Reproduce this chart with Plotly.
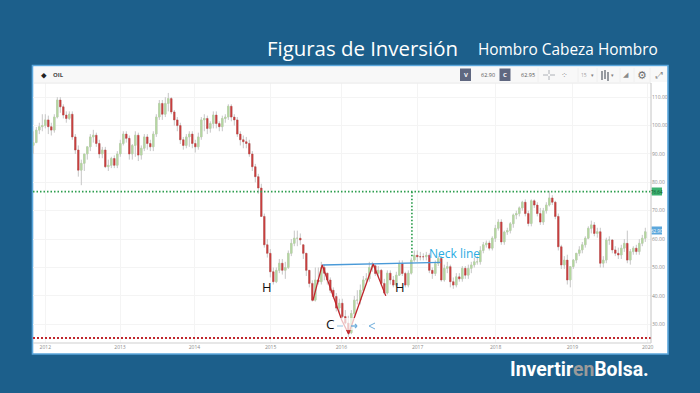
import plotly.graph_objects as go

opens = [93,94,98.4,99.6,100,102,99.6,98.4,103,109,
 106.6,103.7,102.5,104,96,91.4,84.3,86.7,90,92.5,
 96,96.6,93.7,90,91.4,85.5,86,88.4,86,90,
 93.7,97,95.5,90,93,96.6,89.6,92,96,93.7,
 92.5,97,103,107.8,104,107.8,109.5,104.8,102,100,
 95,93,96,97,93.7,92.5,96,102,102.5,99,
 100.7,103.7,100.7,99.6,102.5,103,106.8,103,102,97,
 95,94.3,93.7,90,85.5,82,78,68,58,55,
 48.5,45,49,51.5,49,50,55,58.5,60.3,60.3,
 58,55,49,44.4,38.5,45.6,45,50,48,45.6,
 42,39.8,35.7,37.4,32.7,30.4,
 27,33.8,38.5,38.5,42,45.6,46,50,50.6,47.9,
 49,44.4,41,48,45.6,43.8,47.3,51.4,47.9,43.8,
 48,52.6,54.3,53.8,53.8,53.8,54.3,49,47.9,51.4,
 53.2,45.6,49.7,50.3,45,43.8,46.7,46,49.7,47.3,
 49.7,50.9,52,52,56,58,58.6,56.8,60.3,63.8,
 66,59,62.5,63,65.4,68.5,69,71,73,69,
 65.5,73.5,72,69,66,70,72,74.5,73,68,
 57.3,50.9,52.6,45.6,50.3,52.6,55,56.2,58,60.3,
 63.8,65,62,62.6,51.5,52.6,59.7,59.7,56.2,55,
 54.4,56.8,58.5,52.6,55.6,56.8,55.6,58.5,60.3]
closes = [94,98.4,99.6,100,102,99.6,98.4,103,109,106.6,
 103.7,102.5,104,96,91.4,84.3,86.7,90,92.5,96,
 96.6,93.7,90,91.4,85.5,86,88.4,86,90,93.7,
 97,95.5,90,93,96.6,89.6,92,96,93.7,92.5,
 97,103,107.8,104,107.8,109.5,104.8,102,100,95,
 93,96,97,93.7,92.5,96,102,102.5,99,100.7,
 103.7,100.7,99.6,102.5,103,106.8,103,102,97,95,
 94.3,93.7,90,85.5,82,78,68,58,55,48.5,
 45,49,51.5,49,50,55,58.5,60.3,60.3,59.7,
 55,49,44.4,38.5,45.6,45,50,48,45.6,42,
 39.8,35.7,37.4,32.7,30.4,27,
 33.8,38.5,38.5,42,45.6,46,50,50.6,47.9,49,
 44.4,41,48,45.6,43.8,47.3,51.4,47.9,43.8,48,
 52.6,54.3,53.8,53.8,53.8,54.3,49,47.9,51.4,53.2,
 45.6,49.7,50.3,45,43.8,46.7,46,49.7,47.3,49.7,
 50.9,52,52,56,58,58.6,56.8,60.3,63.8,66,
 59,62.5,63,65.4,68.5,69,71,73,69,65.5,
 73.5,72,69,66,70,72,74.5,73,68,57.3,
 50.9,52.6,45.6,50.3,52.6,55,56.2,58,60.3,63.8,
 65,62,62.6,51.5,52.6,59.7,59.7,56.2,55,54.4,
 56.8,58.5,52.6,55.6,56.8,55.6,58.5,60.3,62.6]
highs = [98,99.5,101,104,104,103.5,101,104,110,110,
 107.5,105,105,105,97,93,88,89,92,97,
 98.5,97.5,95,92.5,92.5,88,89,89.5,91,95,
 98,98,96.5,93.5,98,97.5,93,97,97,95,
 98,104,109,109,110,111.5,110,105.5,103,101,
 96,97,98,98,95,97.5,103,104,103.5,101.5,
 105,105,101.5,103.5,104,107.5,107.5,104,103,98,
 96.5,96,95,91,86.5,83,79.5,69,60,56.5,
 50,50,53,53,52,56,60,63,63,62,
 56,50.5,47,45.5,50,50,52,51,48,46.5,
 43,41,39,39,35,33,
 35,40,42,44,47,48,52,52,51,50.5,
 49.5,46,49,49,47,48.5,52.5,52.5,48.5,49,
 53.5,56,56,55.5,55,55.5,55,50,52.5,54,
 54,51,52,51,46.5,48,48,50.5,50.5,51,
 52,53.5,54,57.5,59,59.5,59.5,61,65,67,
 67,63,64,66,69,70,71.5,73.5,74,70,
 74,74,73,71,71,73,77,75.5,73.5,69,
 58,54,54.5,47,53,55,57.5,59,61,64.5,
 66.5,66,64,64,54,60.5,61,60,57.5,57,
 58,60,63,56.5,57.5,58,60,61.5,64]
lows = [90,94,97,98,99,97,96.5,97.5,102.5,104.5,
 102.5,101,102,95,90,82,79,84,88,91,
 94,92.5,88.5,88.5,85,84,85,85,85,89,
 93,94,88,88,89,87.5,88,91,91.5,91,
 91,96,102,102,103,105,104,100,98,93.5,
 91.5,92,92.5,92,90.5,91.5,95,98,97,97.5,
 99,99,98,98,101,102,101.5,100,96,93,
 92,92,89,84,80,76,68,57,53.5,46.5,
 44,44.5,48,47.5,46,49.5,54,57.5,57.5,58,
 53,47,43,38,38,44,44,45.5,44,41,
 39,34.5,34,32,30,25.5,
 26.5,33,37,37,41,44,45,48.5,47,46.5,
 43.5,40.5,40.5,44,43,43,47,47,43,43,
 47.5,52,52,52.5,52.5,52.5,48,46,47,50.5,
 45,45,48,43,42.5,43,45,45,46,46,
 48,50,51,51,55,57,56,56,59,63,
 58,58,61.5,62,64,67,68,70,68,64.5,
 64.5,71,68,65,65,69,71.5,72,67,56,
 49.5,49.5,44,43,49.5,51.5,54,55,57,60,
 62,61,60.5,50,50,51.5,58,55,54,53,
 53,55.5,51.5,51,54.5,54.5,54.5,57.5,59]

candle_index = list(range(len(closes)))
year_labels = ["2012","2013","2014","2015","2016","2017","2018","2019","2020"]
year_index = [4,28.9,53.7,79.1,102.7,128.1,154.1,179.7,204.8]
price_ticks = [30,40,50,60,70,80,90,100,110]
pattern_x = [93.2,96.3,102.8,105.1,113.3,117.5]
pattern_y = [38.3,50.9,31.5,26.6,51.2,40]
neck_x = [96.3,135.8]
neck_y = [50.9,51.8]
target_level = 76.7
target_x = [126.2,126.2]
target_y = [76.7,53.3]
floor_level = 25.2
last_price = 62.9

L,R,T,B = 33,651,83,343
W,H = 700,393
def xp(px): return (px-L)/(R-L)
def yp(py): return (B-py)/(B-T)

BLUE="#1c5f8b"; RED="#c8403f"; GREEN="#b5d8a0"; GRAY="#c6c6c6"

fig = go.Figure()
fig.add_trace(go.Candlestick(x=candle_index, open=opens, high=highs, low=lows, close=closes,
    increasing=dict(line=dict(color=GRAY,width=1),fillcolor=GRAY),
    decreasing=dict(line=dict(color=GRAY,width=1),fillcolor=GRAY),
    whiskerwidth=0, hoverinfo="skip", showlegend=False))
body_hi=[max(o,c) for o,c in zip(opens,closes)]
body_lo=[min(o,c) for o,c in zip(opens,closes)]
fig.add_trace(go.Candlestick(x=candle_index, open=opens, high=body_hi, low=body_lo, close=closes,
    increasing=dict(line=dict(color=GREEN,width=0.4),fillcolor=GREEN),
    decreasing=dict(line=dict(color=RED,width=0.4),fillcolor=RED),
    whiskerwidth=0, hoverinfo="skip", showlegend=False))
def line(x,y,color,width,dash="solid"):
    fig.add_trace(go.Scatter(x=x,y=y,mode="lines",line=dict(color=color,width=width,dash=dash),
                             hoverinfo="skip",showlegend=False))
xr=[-0.1,205.9]
line(xr,[target_level]*2,"#2e9e4f",1.7,"1.5px,2px")
line(xr,[floor_level]*2,"#c0272d",2,"2px,2px")
line(target_x,target_y,"#2e9e4f",1.7,"1.5px,2px")
line(neck_x,neck_y,"#4a9ad8",1.4)
line(pattern_x,pattern_y,"#c0272d",1.3)

shapes=[]
def rect(x0,y0,x1,y1,fill,lc=None,lw=0,layer="below",op=1):
    shapes.append(dict(type="rect",xref="paper",yref="paper",x0=xp(x0),x1=xp(x1),y0=yp(y0),y1=yp(y1),
        fillcolor=fill,line=dict(color=lc or fill,width=lw),layer=layer,opacity=op))
def seg(x0,y0,x1,y1,c,w=1,layer="above"):
    shapes.append(dict(type="line",xref="paper",yref="paper",x0=xp(x0),x1=xp(x1),y0=yp(y0),y1=yp(y1),
        line=dict(color=c,width=w),layer=layer))
rect(32.5,65.5,668,354,"#ffffff","#5ba7dc",1.6)
rect(34,67,667,82,"#f8f8f8")
seg(34,83,651,83,"#eeeeee",1.5)
seg(651,83,651,343,"#c4c4c4",1)
seg(33,343,651,343,"#d0d0d0",1.2)
for a in [538,578,597,620,634,650]:
    seg(a,68,a,82,"#ececec",0.8)
rect(460,68.5,471,81,"#5f6780")
rect(499.5,68.5,510.5,81,"#5f6780")
seg(543,75,548,75,"#9aa0a6",0.8); seg(550,75,555,75,"#9aa0a6",0.8)
seg(549,70,549,74,"#9aa0a6",0.8); seg(549,76,549,80,"#9aa0a6",0.8)
for px_,a,b in [(602,71,80),(605,70,79),(608,72,81)]:
    seg(px_,a,px_,b,"#7d838a",1.6)
rect(651.5,187.5,662,195.5,"#3cb371")
rect(651.5,226.5,662,234.5,"#5ba7dc")
rect(332,318,362,330,"#ffffff",layer="above",op=0.7)
rect(365,318,380,330,"#ffffff",layer="above",op=0.7)
seg(337,326,343,326,"#a5cde8",1.2)
seg(351,326,357,326,"#6faedc",1.4)
seg(355,324,357,326,"#6faedc",1.2); seg(355,328,357,326,"#6faedc",1.2)
seg(369,326,375,323,"#6faedc",1); seg(369,326,375,329,"#6faedc",1)

ann=[]
def text(px,py,s,size,color,family="Open Sans",anchor="center"):
    ann.append(dict(xref="paper",yref="paper",x=xp(px),y=yp(py),text=s,showarrow=False,
        font=dict(size=size,color=color,family=family),xanchor=anchor,yanchor="middle",align="center"))
text(362.5,48,"Figuras de Inversión",20.4,"#ffffff")
text(567.5,49,"Hombro Cabeza Hombro",15.4,"#ffffff")
text(579,369.5,'<b>Invertir<span style="color:#9a9a9a">en</span>Bolsa.</b>',19.4,"#ffffff","Roboto")
text(44,75,"⬥",8,"#222222","DejaVu Sans")
text(58,75,"<b>OIL</b>",6,"#444444")
text(465.5,75,"<b>V</b>",6,"#ffffff")
text(505,75,"<b>C</b>",6,"#ffffff")
text(488,75,"62.90",5.5,"#555555")
text(527.5,75,"62.95",5.5,"#555555")
text(564,75,"⁘",8,"#a0a0a0","DejaVu Sans")
text(584,75,"15",5,"#a0a0a0")
text(592,75,"▾",5,"#808080","DejaVu Sans")
text(612,75,"▾",5,"#808080","DejaVu Sans")
text(625.5,75,"◢",7,"#8a8a8a","DejaVu Sans")
text(642,75,"⚙",11,"#6f6f6f","DejaVu Sans")
text(659,75,"⤢",9,"#8a8a8a","DejaVu Sans")
text(657,191.5,"76.64",4.5,"#14532d")
text(657,230.5,"62.90",4.5,"#ffffff")
text(267,286.5,"H",13,"#111111")
text(400,287,"H",13,"#111111")
text(330,324,"C",13.5,"#111111")
text(454,253,"Neck line",12,"#29abe2")

fig.update_layout(width=W,height=H,margin=dict(l=L,r=W-R,t=T,b=H-B,pad=0),autosize=False,
    paper_bgcolor=BLUE,plot_bgcolor="#ffffff",shapes=shapes,annotations=ann,showlegend=False,
    xaxis=dict(range=xr,rangeslider=dict(visible=False),tickmode="array",tickvals=year_index,
        ticktext=year_labels,tickfont=dict(size=5,color="#8a8a8a",family="Open Sans"),
        showgrid=True,gridcolor="#f4f4f4",gridwidth=1,zeroline=False,showline=False,ticks=""),
    yaxis=dict(range=[23.4,115],side="right",tickmode="array",tickvals=price_ticks,
        tickformat=".2f",tickfont=dict(size=5,color="#8a8a8a",family="Open Sans"),
        showgrid=True,gridcolor="#f4f4f4",gridwidth=1,zeroline=False,showline=False,ticks=""))
assert len(opens)==len(closes)==len(highs)==len(lows)
fig.write_html("out.html", config=dict(displayModeBar=False),
               post_script="document.body.style.margin='0';document.body.style.overflow='hidden';")
